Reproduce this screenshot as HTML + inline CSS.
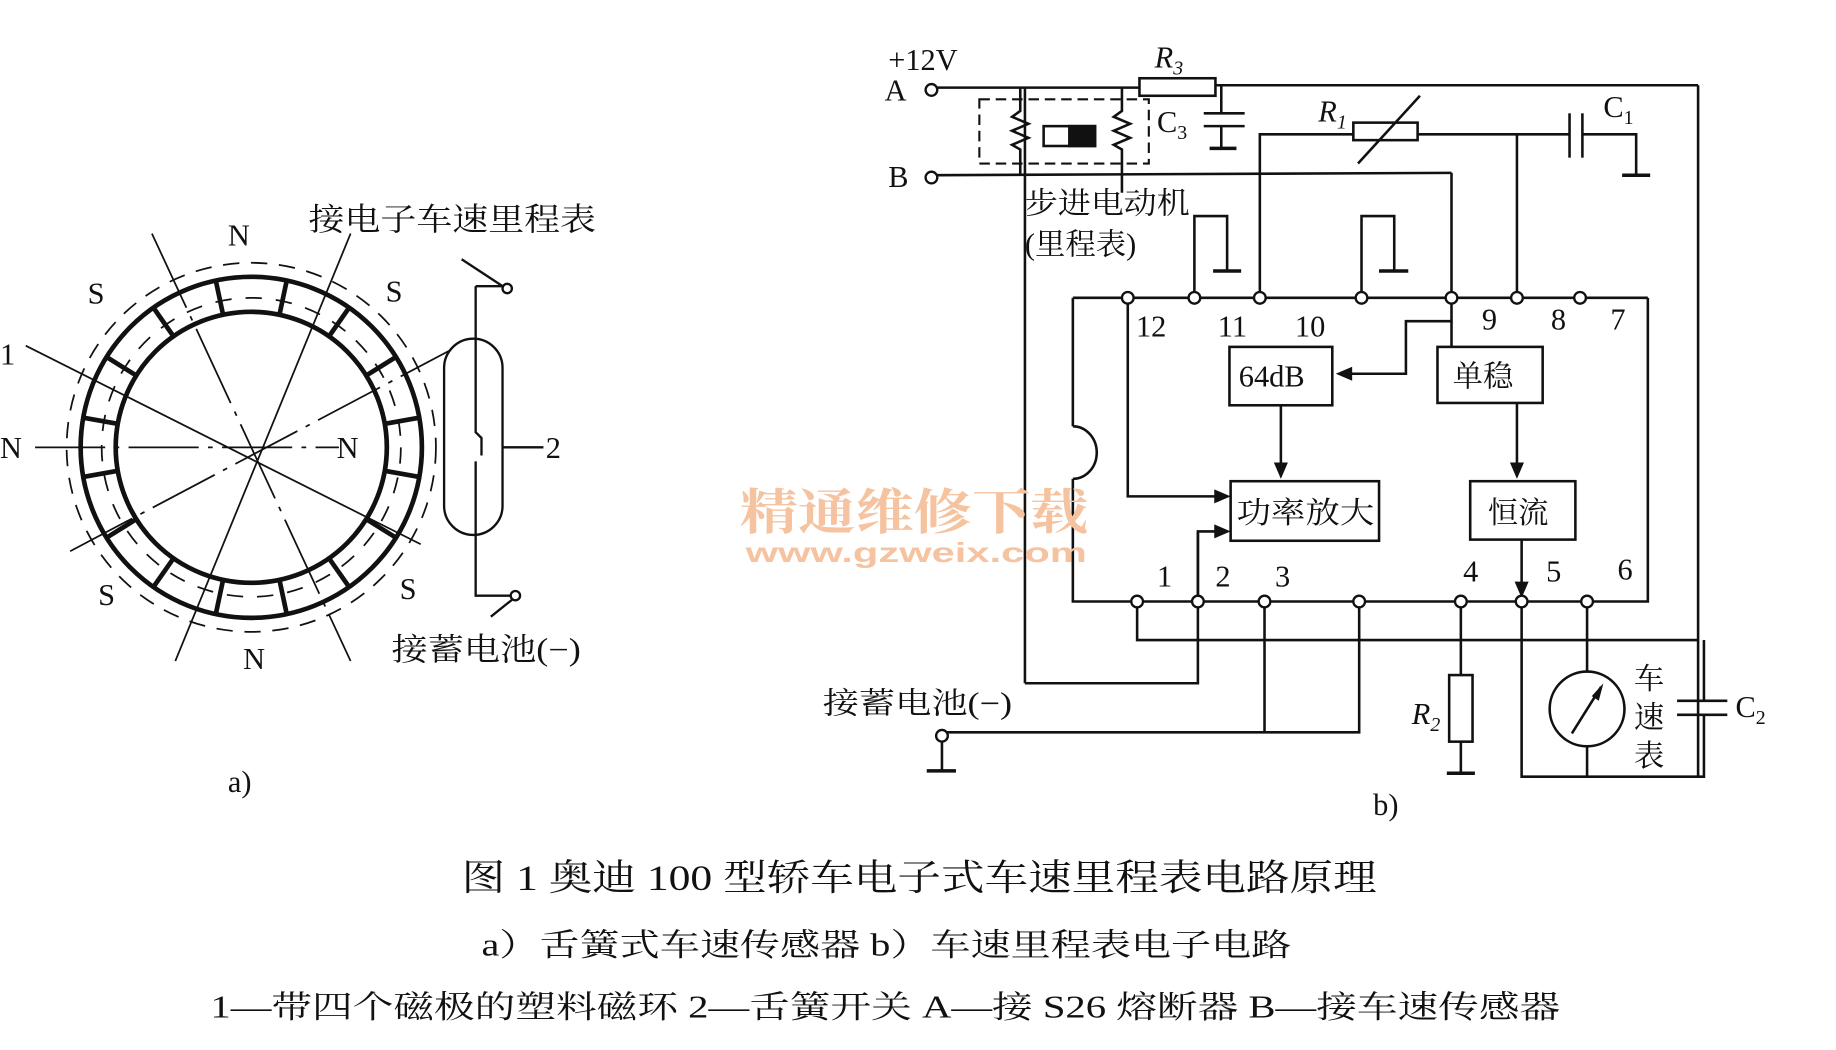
<!DOCTYPE html>
<html><head><meta charset="utf-8"><style>
html,body{margin:0;padding:0;background:#fff;}
svg{display:block;}
text{font-family:"Liberation Serif","Noto Serif CJK SC","Noto Sans CJK SC",serif;fill:#111;}
</style></head><body>
<svg width="1836" height="1050" viewBox="0 0 1571 899" preserveAspectRatio="none" xmlns="http://www.w3.org/2000/svg">
<rect width="1571" height="899" fill="#fff"/>
<g stroke="#111" fill="none" stroke-width="2">
<circle cx="215" cy="383" r="146" stroke-width="4"/>
<circle cx="215" cy="383" r="116" stroke-width="4"/>
<circle cx="215" cy="383" r="158" stroke-dasharray="14,10" stroke-width="1.5"/>
<circle cx="215" cy="383" r="128" stroke-dasharray="14,12" stroke-width="1.5"/>
<g stroke-width="4">
<line x1="215" y1="237" x2="215" y2="267" transform="rotate(-12 215 383)"/>
<line x1="215" y1="237" x2="215" y2="267" transform="rotate(12 215 383)"/>
<line x1="215" y1="237" x2="215" y2="267" transform="rotate(-35 215 383)"/>
<line x1="215" y1="237" x2="215" y2="267" transform="rotate(35 215 383)"/>
<line x1="215" y1="237" x2="215" y2="267" transform="rotate(-58 215 383)"/>
<line x1="215" y1="237" x2="215" y2="267" transform="rotate(58 215 383)"/>
<line x1="215" y1="237" x2="215" y2="267" transform="rotate(-80 215 383)"/>
<line x1="215" y1="237" x2="215" y2="267" transform="rotate(80 215 383)"/>
<line x1="215" y1="237" x2="215" y2="267" transform="rotate(-100 215 383)"/>
<line x1="215" y1="237" x2="215" y2="267" transform="rotate(100 215 383)"/>
<line x1="215" y1="237" x2="215" y2="267" transform="rotate(-122 215 383)"/>
<line x1="215" y1="237" x2="215" y2="267" transform="rotate(122 215 383)"/>
<line x1="215" y1="237" x2="215" y2="267" transform="rotate(-145 215 383)"/>
<line x1="215" y1="237" x2="215" y2="267" transform="rotate(145 215 383)"/>
<line x1="215" y1="237" x2="215" y2="267" transform="rotate(-168 215 383)"/>
<line x1="215" y1="237" x2="215" y2="267" transform="rotate(168 215 383)"/>
</g>
<g stroke-width="1.5">
<line x1="30" y1="383" x2="290" y2="383" stroke-dasharray="60,8,4,8"/>
<line x1="130" y1="200" x2="300" y2="566" stroke-dasharray="70,8,4,8"/>
<line x1="300" y1="200" x2="150" y2="566"/>
<line x1="22" y1="296" x2="360" y2="466"/>
<line x1="60" y1="472" x2="385" y2="300" stroke-dasharray="60,8,4,8"/>
</g>
<rect x="380" y="290" width="50" height="168" rx="25"/>
<polyline points="407,245 407,370 412,375 412,390"/>
<polyline points="407,395 407,510 440,510"/>
<line x1="407" y1="245" x2="432" y2="245"/>
<line x1="395" y1="222" x2="430" y2="245"/>
<line x1="420" y1="528" x2="440" y2="512"/>
<line x1="430" y1="383" x2="465" y2="383"/>
<circle cx="434" cy="247" r="4" fill="#fff"/>
<circle cx="441" cy="510" r="4" fill="#fff"/>
</g>
<g font-size="26">
<text x="195" y="210">N</text><text x="75" y="260">S</text><text x="330" y="258">S</text>
<text x="0" y="392">N</text><text x="288" y="392">N</text><text x="84" y="518">S</text><text x="342" y="513">S</text>
<text x="208" y="573">N</text><text x="0" y="312">1</text><text x="467" y="392">2</text>
<text x="195" y="678">a)</text>
</g>
<text x="264" y="197" font-size="27" textLength="246" lengthAdjust="spacingAndGlyphs">接电子车速里程表</text>
<text x="335" y="565" font-size="27" textLength="162" lengthAdjust="spacingAndGlyphs">接蓄电池(−)</text>

<g stroke="#111" fill="none" stroke-width="2.2">
<line x1="801" y1="75" x2="975" y2="75"/><line x1="1040" y1="73" x2="1453" y2="73"/>
<rect x="975" y="67" width="65" height="15"/>
<line x1="1453" y1="73" x2="1453" y2="665"/>
<line x1="801" y1="150" x2="1242" y2="148"/><line x1="1242" y1="148" x2="1242" y2="255"/>
<rect x="838" y="85" width="145" height="55" stroke-dasharray="9,5" stroke-width="1.8"/>
<polyline points="873,75 873,95 866,100 880,106 866,112 880,118 866,124 873,128 873,150"/>
<polyline points="960,75 960,95 953,100 967,106 953,112 967,118 953,124 960,128 960,165"/>
<rect x="893" y="108" width="44" height="17"/>
<rect x="915" y="108" width="22" height="17" fill="#111"/>
<line x1="877" y1="75" x2="877" y2="585"/>
<polyline points="877,585 1025,585 1025,455 1045,455"/>
<polyline points="1045,73 1045,97"/><line x1="1030" y1="97" x2="1065" y2="97"/><line x1="1030" y1="108" x2="1065" y2="108"/>
<polyline points="1045,108 1045,127"/><line x1="1035" y1="127" x2="1058" y2="127" stroke-width="3"/>
<rect x="1158" y="105" width="55" height="15"/>
<line x1="1162" y1="140" x2="1215" y2="82"/>
<polyline points="1078,255 1078,115 1158,115"/><line x1="1213" y1="115" x2="1343" y2="115"/>
<line x1="1298" y1="115" x2="1298" y2="255"/>
<line x1="1343" y1="97" x2="1343" y2="135"/><line x1="1354" y1="97" x2="1354" y2="135"/>
<polyline points="1354,115 1400,115 1400,150"/><line x1="1388" y1="150" x2="1412" y2="150" stroke-width="3"/>
<polyline points="1022,255 1022,185 1050,185 1050,232"/><line x1="1038" y1="232" x2="1062" y2="232" stroke-width="3"/>
<polyline points="1165,255 1165,185 1193,185 1193,232"/><line x1="1180" y1="232" x2="1205" y2="232" stroke-width="3"/>
<line x1="918" y1="255" x2="1410" y2="255"/>
<polyline points="918,255 918,365"/><path d="M918,365 A20,22 0 0 1 918,410"/><polyline points="918,410 918,515 1410,515 1410,255"/>
<polyline points="965,255 965,425 1040,425"/>
<polyline points="1242,255 1242,275 1203,275 1203,320 1155,320"/>
<line x1="1242" y1="275" x2="1242" y2="297"/>
<rect x="1052" y="297" width="88" height="50"/>
<rect x="1230" y="297" width="90" height="48"/>
<rect x="1053" y="412" width="127" height="51"/>
<rect x="1258" y="412" width="90" height="50"/>
<line x1="1096" y1="347" x2="1096" y2="400"/>
<line x1="1298" y1="345" x2="1298" y2="400"/>
<line x1="1302" y1="462" x2="1302" y2="500"/>
<polyline points="973,515 973,548 1453,548"/>
<line x1="1025" y1="515" x2="1025" y2="455"/>
<polyline points="1082,515 1082,627"/><polyline points="1163,515 1163,627 810,627"/>
<line x1="806" y1="634" x2="806" y2="660"/><line x1="793" y1="660" x2="818" y2="660" stroke-width="3"/>
<polyline points="1250,515 1250,578"/><rect x="1240" y="578" width="20" height="57"/><line x1="1250" y1="635" x2="1250" y2="662"/><line x1="1238" y1="662" x2="1262" y2="662" stroke-width="3"/>
<polyline points="1302,515 1302,665 1458,665 1458,612"/><line x1="1458" y1="600" x2="1458" y2="548"/>
<line x1="1435" y1="600" x2="1478" y2="600"/><line x1="1435" y1="612" x2="1478" y2="612"/>
<polyline points="1358,515 1358,575"/><line x1="1358" y1="640" x2="1358" y2="665"/>
<circle cx="1358" cy="607" r="32"/><line x1="1345" y1="628" x2="1370" y2="588"/>
</g>
<g fill="#111">
<polygon points="1143,320 1157,314 1157,326"/>
<polygon points="1096,410 1090,396 1102,396"/>
<polygon points="1298,410 1292,396 1304,396"/>
<polygon points="1302,512 1296,498 1308,498"/>
<polygon points="1053,425 1039,419 1039,431"/>
<polygon points="1053,455 1039,449 1039,461"/>
<polygon points="1372,585 1362,596 1368,600"/>
</g>
<g stroke="#111" stroke-width="2" fill="#fff">
<circle cx="797" cy="77" r="5"/><circle cx="797" cy="152" r="5"/><circle cx="806" cy="630" r="5"/>
<circle cx="965" cy="255" r="5"/><circle cx="1022" cy="255" r="5"/><circle cx="1078" cy="255" r="5"/><circle cx="1165" cy="255" r="5"/><circle cx="1242" cy="255" r="5"/><circle cx="1298" cy="255" r="5"/><circle cx="1352" cy="255" r="5"/>
<circle cx="973" cy="515" r="5"/><circle cx="1025" cy="515" r="5"/><circle cx="1082" cy="515" r="5"/><circle cx="1163" cy="515" r="5"/><circle cx="1250" cy="515" r="5"/><circle cx="1302" cy="515" r="5"/><circle cx="1358" cy="515" r="5"/>
</g>
<g font-size="26">
<text x="760" y="60">+12V</text><text x="757" y="86">A</text><text x="760" y="160">B</text>
<text x="988" y="58" font-style="italic">R<tspan font-size="17" dy="6">3</tspan></text>
<text x="990" y="113">C<tspan font-size="17" dy="6">3</tspan></text>
<text x="1128" y="104" font-style="italic">R<tspan font-size="17" dy="6">1</tspan></text>
<text x="1372" y="100">C<tspan font-size="17" dy="6">1</tspan></text>
<text x="1208" y="620" font-style="italic">R<tspan font-size="17" dy="6">2</tspan></text>
<text x="1485" y="614">C<tspan font-size="17" dy="6">2</tspan></text>
<text x="972" y="288">12</text><text x="1042" y="288">11</text><text x="1108" y="288">10</text>
<text x="1268" y="282">9</text><text x="1327" y="282">8</text><text x="1378" y="282">7</text>
<text x="990" y="502">1</text><text x="1040" y="502">2</text><text x="1091" y="502">3</text>
<text x="1252" y="498">4</text><text x="1323" y="498">5</text><text x="1384" y="496">6</text>
<text x="1060" y="331">64dB</text>
<text x="1175" y="698">b)</text>
</g>
<g font-size="26">
<text x="877" y="183" textLength="141" lengthAdjust="spacingAndGlyphs">步进电动机</text><text x="877" y="218">(里程表)</text>
<text x="1243" y="331">单稳</text><text x="1058" y="448" textLength="118" lengthAdjust="spacingAndGlyphs">功率放大</text><text x="1273" y="448">恒流</text>
<text x="704" y="611" textLength="162" lengthAdjust="spacingAndGlyphs">接蓄电池(−)</text>
<text x="1398" y="590">车</text><text x="1398" y="623">速</text><text x="1398" y="656">表</text>
</g>
<text x="633" y="453" font-size="42" style="fill:#f5c3a0" font-weight="bold" textLength="298" lengthAdjust="spacingAndGlyphs">精通维修下载</text>
<text x="638" y="481" font-size="24" style="fill:#f5c3a0;font-family:'Liberation Sans',sans-serif" font-weight="bold" textLength="292" lengthAdjust="spacingAndGlyphs">www.gzweix.com</text>
<text x="395" y="762" font-size="31" textLength="783" lengthAdjust="spacingAndGlyphs">图 1  奥迪 100 型轿车电子式车速里程表电路原理</text>
<text x="412" y="818" font-size="27" textLength="693" lengthAdjust="spacingAndGlyphs">a）舌簧式车速传感器   b）车速里程表电子电路</text>
<text x="180" y="871" font-size="27" textLength="1155" lengthAdjust="spacingAndGlyphs">1—带四个磁极的塑料磁环   2—舌簧开关   A—接 S26 熔断器   B—接车速传感器</text>
</svg>
</body></html>
